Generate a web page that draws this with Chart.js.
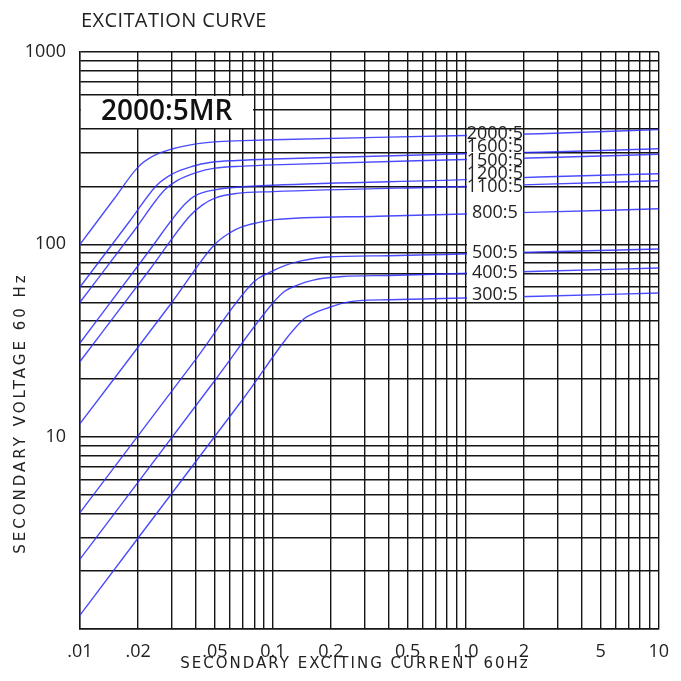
<!DOCTYPE html>
<html lang="en">
<head>
    <meta charset="UTF-8">
    <title>Excitation Curve</title>
    <script src="https://cdn.jsdelivr.net/npm/chart.js"></script>
    <style>
        body {
            margin: 0;
            padding: 0;
            background: #fff;
        }

        .chart-box {
            width: 681px;
            height: 681px;
        }
    </style>
</head>

<body>
    <div class="chart-box">
        <canvas id="excitationChart" width="681" height="681"></canvas>
    </div>

    <script>
        // CT ratios, one curve each
        const ratios = ["2000:5", "1600:5", "1500:5", "1200:5", "1100:5", "800:5", "500:5", "400:5", "300:5"];

        // Secondary exciting current (A) and secondary voltage (V)
        const amps2000 = [0.01, 0.015, 0.02, 0.024, 0.03, 0.04, 0.05, 0.07, 0.1, 1, 2.4, 10];
        const volts2000 = [100, 172, 252, 288, 313, 333, 341, 346, 350, 368, 376, 395];
        const amps1600 = [0.01, 0.018, 0.025, 0.03, 0.038, 0.048, 0.065, 0.1, 1, 2.4, 10];
        const volts1600 = [60, 131, 203, 232, 254, 267, 273, 278, 296, 301, 314];
        const amps1500 = [0.01, 0.019, 0.0275, 0.032, 0.04, 0.05, 0.07, 0.1, 1, 2.4, 10];
        const volts1500 = [50, 117, 192, 215, 236, 249, 255, 259, 276, 282, 294];
        const amps1200 = [0.01, 0.022, 0.035, 0.04, 0.05, 0.065, 0.1, 1, 2.4, 10];
        const volts1200 = [30.7, 88, 162, 180, 192, 198, 203, 217, 224, 233];
        const amps1100 = [0.01, 0.023, 0.037, 0.043, 0.05, 0.065, 0.1, 1, 2.4, 10];
        const volts1100 = [24.6, 74, 140, 160, 174, 184, 188, 200, 205, 214];
        const amps800 = [0.01, 0.03, 0.05, 0.06, 0.07, 0.085, 0.1, 0.35, 2.4, 10];
        const volts800 = [11.7, 50, 100, 115, 124, 130, 134, 140, 147, 153];
        const amps500 = [0.01, 0.04, 0.08, 0.095, 0.115, 0.14, 0.19, 0.4, 2.4, 10];
        const volts500 = [4.03, 25.4, 64, 71, 77.5, 82, 86, 87.3, 91.2, 94.6];
        const amps400 = [0.01, 0.05, 0.1, 0.115, 0.135, 0.16, 0.23, 0.4, 2.4, 10];
        const volts400 = [2.31, 19.6, 49.5, 57, 61.5, 65, 68, 68.9, 72.4, 75.3];
        const amps300 = [0.01, 0.07, 0.145, 0.165, 0.19, 0.23, 0.28, 0.4, 2.4, 10];
        const volts300 = [1.18, 15.7, 41, 44, 46.5, 49.5, 51, 51.5, 53.7, 55.8];

        const curveAmps = [amps2000, amps1600, amps1500, amps1200, amps1100, amps800, amps500, amps400, amps300];
        const curveVolts = [volts2000, volts1600, volts1500, volts1200, volts1100, volts800, volts500, volts400, volts300];

        // Tick labels
        const xTickValues = [0.01, 0.02, 0.05, 0.1, 0.2, 0.5, 1, 2, 5, 10];
        const xTickText = [".01", ".02", ".05", "0.1", "0.2", "0.5", "1.0", "2", "5", "10"];
        const yTickValues = [10, 100, 1000];
        const yTickText = ["10", "100", "1000"];

        // small pixel nudges so the stacked ratio labels don't collide
        const labelNudge = [-1, -6, 2, -5, 1, 0, 0, 0, -2];

        // grid at 1..9 x 10^n
        function logGrid(fromExp, toExp) {
            const vals = [];
            for (let e = fromExp; e < toExp; e++) {
                for (let s = 1; s <= 9; s++) vals.push(+(s * Math.pow(10, e)).toPrecision(3));
            }
            vals.push(Math.pow(10, toExp));
            return vals;
        }

        function findLabel(values, texts, v) {
            const i = values.findIndex(t => Math.abs(t - v) / t < 1e-6);
            return i >= 0 ? texts[i] : '';
        }

        // log-log interpolation along one curve
        function voltsAt(xs, ys, x) {
            for (let i = 1; i < xs.length; i++) {
                if (x <= xs[i]) {
                    const f = (Math.log(x) - Math.log(xs[i - 1])) / (Math.log(xs[i]) - Math.log(xs[i - 1]));
                    return Math.exp(Math.log(ys[i - 1]) + f * (Math.log(ys[i]) - Math.log(ys[i - 1])));
                }
            }
            return ys[ys.length - 1];
        }

        const gridColor = '#151515';
        const tickFont = { family: "'Open Sans', sans-serif", size: 18 };

        const overlayPlugin = {
            id: 'overlays',
            beforeDatasetsDraw(chart) {
                const { ctx, scales: { x, y } } = chart;
                // model box, gridlines stop at its edges
                const l = x.getPixelForValue(0.01), r = x.getPixelForValue(0.08);
                const t = y.getPixelForValue(600), b = y.getPixelForValue(400);
                ctx.save();
                ctx.fillStyle = '#fff';
                ctx.fillRect(Math.round(l) + 1, Math.round(t) + 1, Math.round(r) - Math.round(l) - 2, Math.round(b) - Math.round(t) - 2);
                ctx.fillStyle = '#111';
                ctx.font = "600 28px 'Open Sans', sans-serif";
                ctx.textBaseline = 'middle';
                ctx.textAlign = 'left';
                ctx.fillText('2000:5MR', l + 21, (t + b) / 2);
                ctx.restore();
            },
            afterDatasetsDraw(chart) {
                const { ctx, scales: { x, y } } = chart;
                // label column between the 1.0 and 2 gridlines
                const l = Math.round(x.getPixelForValue(1)), r = Math.round(x.getPixelForValue(2));
                const t = Math.round(y.getPixelForValue(400)), b = Math.round(y.getPixelForValue(50));
                ctx.save();
                ctx.fillStyle = '#fff';
                ctx.fillRect(l + 1, t + 1, r - l - 2, b - t - 2);
                ctx.fillStyle = '#222';
                ctx.font = "18px 'Open Sans', sans-serif";
                ctx.textAlign = 'center';
                ctx.textBaseline = 'middle';
                const cx = (x.getPixelForValue(1) + x.getPixelForValue(2)) / 2;
                ratios.forEach((name, i) => {
                    const v = voltsAt(curveAmps[i], curveVolts[i], 1.4);
                    ctx.fillText(name, cx, y.getPixelForValue(v) + labelNudge[i]);
                });
                ctx.restore();
            },
            afterDraw(chart) {
                const { ctx } = chart;
                ctx.save();
                ctx.fillStyle = '#222';
                ctx.textBaseline = 'middle';
                ctx.font = "20px 'Open Sans', sans-serif";
                ctx.textAlign = 'left';
                ctx.letterSpacing = '0.4px';
                ctx.fillText('EXCITATION CURVE', 81, 21);

                ctx.font = "15px 'DejaVu Sans', sans-serif";
                ctx.textAlign = 'center';
                ctx.letterSpacing = '2px';
                ctx.fillText('SECONDARY EXCITING CURRENT 60Hz', 355, 664);

                ctx.letterSpacing = '3px';
                ctx.translate(21, 413);
                ctx.rotate(-Math.PI / 2);
                ctx.fillText('SECONDARY VOLTAGE 60 Hz', 0, 0);
                ctx.restore();
            }
        };

        const ctx = document.getElementById('excitationChart').getContext('2d');
        const excitationChart = new Chart(ctx, {
            type: 'line',
            data: {
                datasets: ratios.map((name, i) => ({
                    label: name,
                    data: curveAmps[i].map((a, j) => ({ x: a, y: curveVolts[i][j] })),
                    borderColor: 'rgba(45, 45, 255, 0.85)',
                    borderWidth: 1.4,
                    pointRadius: 0,
                    fill: false,
                    cubicInterpolationMode: 'monotone'
                }))
            },
            options: {
                responsive: false,
                animation: false,
                layout: { padding: { top: 52, right: 22, left: 0, bottom: 0 } },
                plugins: {
                    legend: { display: false },
                    tooltip: { enabled: false }
                },
                scales: {
                    x: {
                        type: 'logarithmic',
                        min: 0.01,
                        max: 10,
                        afterBuildTicks: s => { s.ticks = logGrid(-2, 1).map(v => ({ value: v })); },
                        afterFit: s => { s.height = 52; },
                        ticks: {
                            autoSkip: false,
                            maxRotation: 0,
                            padding: 12,
                            color: '#222',
                            font: tickFont,
                            callback: v => findLabel(xTickValues, xTickText, v)
                        },
                        grid: { color: gridColor, lineWidth: 1.4, drawTicks: false },
                        border: { color: gridColor, width: 1.4 }
                    },
                    y: {
                        type: 'logarithmic',
                        min: 1,
                        max: 1000,
                        afterBuildTicks: s => { s.ticks = logGrid(0, 3).map(v => ({ value: v })); },
                        afterFit: s => { s.width = 80; },
                        ticks: {
                            autoSkip: false,
                            padding: 14,
                            color: '#222',
                            font: tickFont,
                            callback: v => findLabel(yTickValues, yTickText, v)
                        },
                        grid: { color: gridColor, lineWidth: 1.4, drawTicks: false },
                        border: { color: gridColor, width: 1.4 }
                    }
                }
            },
            plugins: [overlayPlugin]
        });
    </script>
</body>
</html>
